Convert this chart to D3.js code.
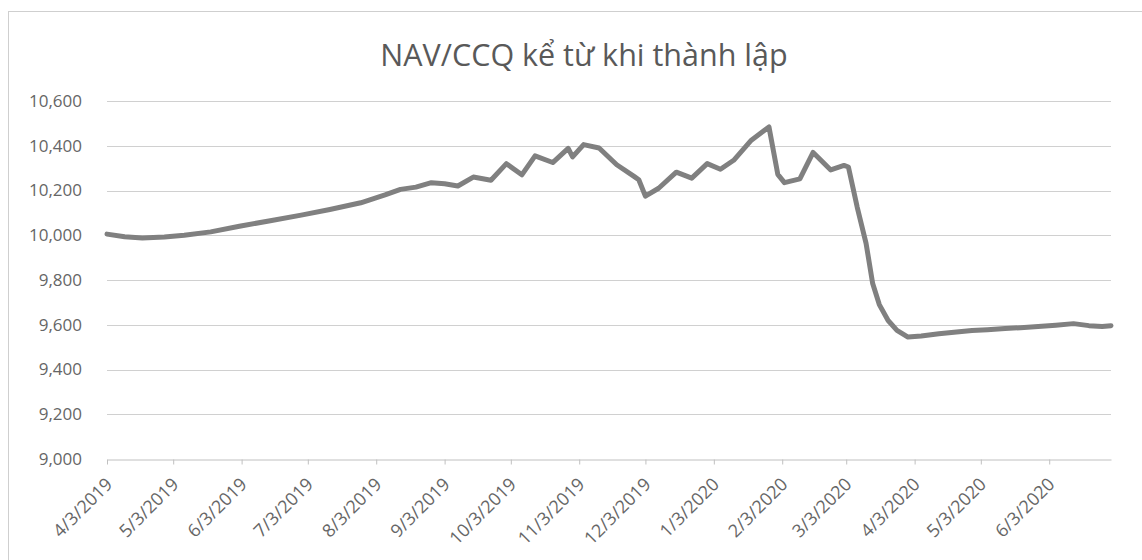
<!DOCTYPE html>
<html>
<head>
<meta charset="utf-8">
<script src="https://cdn.jsdelivr.net/npm/d3@7"></script>
<style>
  body { margin: 0; background: #fff; }
  text { font-family: "Open Sans", sans-serif; }
</style>
</head>
<body>
<div id="chart"></div>
<script>
// NAV per fund unit
const navDates = [
  "2019-04-03", "2019-04-11", "2019-04-19", "2019-04-29", "2019-05-08", "2019-05-20",
  "2019-06-02", "2019-06-16", "2019-06-30", "2019-07-13", "2019-07-27", "2019-08-07",
  "2019-08-14", "2019-08-21", "2019-08-28", "2019-09-03", "2019-09-09", "2019-09-16",
  "2019-09-24", "2019-10-01", "2019-10-08", "2019-10-14", "2019-10-22", "2019-10-29",
  "2019-10-31", "2019-11-05", "2019-11-12", "2019-11-20", "2019-11-28", "2019-11-30",
  "2019-12-03", "2019-12-09", "2019-12-17", "2019-12-24", "2019-12-31", "2020-01-06",
  "2020-01-12", "2020-01-20", "2020-01-28", "2020-02-01", "2020-02-04", "2020-02-11",
  "2020-02-17", "2020-02-25", "2020-03-02", "2020-03-04", "2020-03-08", "2020-03-12",
  "2020-03-15", "2020-03-18", "2020-03-22", "2020-03-26", "2020-03-31", "2020-04-06",
  "2020-04-14", "2020-04-22", "2020-04-29", "2020-05-06", "2020-05-14", "2020-05-21",
  "2020-05-29", "2020-06-06", "2020-06-14", "2020-06-21", "2020-06-27", "2020-07-01"
];
const navValues = [
  10005, 9993, 9988, 9992, 10000, 10015,
  10040, 10065, 10090, 10115, 10145, 10180,
  10205, 10215, 10235, 10230, 10220, 10260,
  10246, 10320, 10270, 10355, 10325, 10388,
  10350, 10405, 10390, 10315, 10262, 10248,
  10175, 10210, 10282, 10255, 10320, 10295,
  10335, 10425, 10484, 10272, 10235, 10252,
  10370, 10292, 10312, 10305, 10125, 9964,
  9784, 9690, 9619, 9575, 9545, 9550,
  9560, 9568, 9574, 9578, 9583, 9587,
  9592, 9598, 9605, 9596, 9592, 9596
];
const yTicks = [9000, 9200, 9400, 9600, 9800, 10000, 10200, 10400, 10600];
const xTickDates = [
  "2019-04-03", "2019-05-03", "2019-06-03", "2019-07-03", "2019-08-03", "2019-09-03",
  "2019-10-03", "2019-11-03", "2019-12-03", "2020-01-03", "2020-02-03", "2020-03-03",
  "2020-04-03", "2020-05-03", "2020-06-03"
];
const chartTitle = "NAV/CCQ kể từ khi thành lập";

const width = 1142, height = 560;
const margin = {left: 107, right: 31, top: 101, bottom: 101};

const parse = d3.timeParse("%Y-%m-%d");
const data = navDates.map((d, i) => ({date: parse(d), value: navValues[i]}));

const svg = d3.select("#chart").append("svg")
    .attr("width", width)
    .attr("height", height);

// chart frame
svg.append("rect")
    .attr("x", 8.5).attr("y", 11.5)
    .attr("width", width + 20).attr("height", height + 20)
    .attr("fill", "none")
    .attr("stroke", "#cfcfcf")
    .attr("stroke-width", 1);

const x = d3.scaleTime()
    .domain([parse(navDates[0]), parse(navDates[navDates.length - 1])])
    .range([margin.left, width - margin.right]);

const y = d3.scaleLinear()
    .domain([9000, 10600])
    .range([height - margin.bottom, margin.top]);

// title
svg.append("text")
    .attr("x", 584)
    .attr("y", 66)
    .attr("text-anchor", "middle")
    .attr("fill", "#595959")
    .style("font-size", "30.5px")
    .text(chartTitle);

// gridlines
svg.append("g")
    .selectAll("line")
    .data(yTicks.filter(v => v > 9000))
    .enter().append("line")
    .attr("x1", x.range()[0]).attr("x2", x.range()[1])
    .attr("y1", d => Math.round(y(d)) + 0.5)
    .attr("y2", d => Math.round(y(d)) + 0.5)
    .attr("stroke", "#d0d0d0")
    .attr("stroke-width", 1);

// y axis labels
const yAxis = d3.axisLeft(y)
    .tickValues(yTicks)
    .tickSize(0)
    .tickPadding(25)
    .tickFormat(d3.format(","));
svg.append("g")
    .attr("transform", `translate(${margin.left},0)`)
    .call(yAxis)
    .call(g => g.select(".domain").remove())
    .call(g => g.selectAll("text")
        .attr("fill", "#666")
        .style("font-size", "17px")
        .style("font-family", "'Open Sans', sans-serif"));

// x axis
const xAxis = d3.axisBottom(x)
    .tickValues(xTickDates.map(parse))
    .tickSize(5)
    .tickSizeOuter(0)
    .tickFormat(d3.timeFormat("%-m/%-d/%Y"));
svg.append("g")
    .attr("transform", `translate(0,${Math.round(y(9000)) + 0.5})`)
    .call(xAxis)
    .call(g => g.select(".domain").attr("stroke", "#c0c0c0"))
    .call(g => g.selectAll(".tick line").attr("stroke", "#c0c0c0"))
    .call(g => g.selectAll("text")
        .attr("fill", "#666")
        .style("font-size", "18px")
        .style("font-family", "'Open Sans', sans-serif")
        .attr("text-anchor", "end")
        .attr("dy", null)
        .attr("y", 0)
        .attr("transform", "translate(6,26) rotate(-45)"));

// NAV line
const line = d3.line()
    .x(d => x(d.date))
    .y(d => y(d.value));

svg.append("path")
    .datum(data)
    .attr("d", line)
    .attr("fill", "none")
    .attr("stroke", "#808080")
    .attr("stroke-width", 5)
    .attr("stroke-linejoin", "round")
    .attr("stroke-linecap", "round");
</script>
</body>
</html>
